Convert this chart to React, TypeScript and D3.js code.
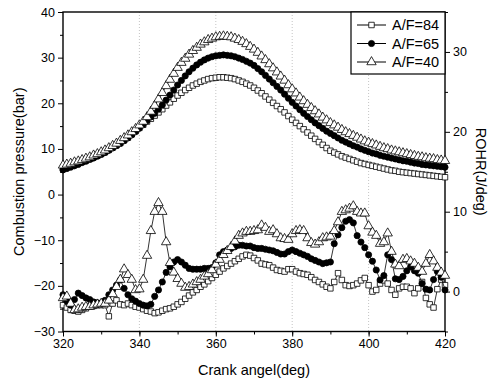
import React, { useEffect, useRef } from "react";
import * as d3 from "d3";

// crank angle, one sample per degree
const angles = d3.range(320, 421);

// combustion pressure (bar)
const p84 = [5.8, 6.0, 6.3, 6.6, 6.9, 7.2, 7.5, 7.8, 8.2, 8.5, 8.9, 9.3, 9.8, 10.3, 10.8, 11.3, 11.9, 12.5, 13.2, 13.9, 14.6, 15.3, 16.0, 16.6, 17.3, 18.0, 18.7, 19.5, 20.2, 21.0, 21.7, 22.3, 22.9, 23.4, 23.9, 24.3, 24.7, 25.0, 25.3, 25.5, 25.6, 25.7, 25.7, 25.6, 25.5, 25.3, 25.0, 24.7, 24.3, 23.9, 23.4, 22.8, 22.2, 21.5, 20.8, 20.1, 19.4, 18.7, 18.0, 17.2, 16.4, 15.7, 15.0, 14.3, 13.6, 12.9, 12.2, 11.5, 10.9, 10.2, 9.6, 9.2, 8.8, 8.4, 8.1, 7.8, 7.5, 7.2, 6.9, 6.7, 6.5, 6.3, 6.1, 5.9, 5.7, 5.5, 5.3, 5.2, 5.0, 4.9, 4.8, 4.7, 4.6, 4.5, 4.4, 4.3, 4.2, 4.1, 4.0, 3.9, 3.8];
const p65 = [5.4, 5.7, 6.0, 6.3, 6.6, 7.0, 7.3, 7.7, 8.0, 8.4, 8.8, 9.2, 9.7, 10.2, 10.7, 11.2, 11.8, 12.4, 13.1, 13.8, 14.6, 15.4, 16.2, 17.0, 17.8, 18.7, 19.6, 20.7, 21.8, 22.9, 24.0, 25.0, 26.0, 26.9, 27.7, 28.4, 29.0, 29.5, 29.9, 30.2, 30.4, 30.5, 30.6, 30.5, 30.4, 30.2, 29.9, 29.6, 29.2, 28.8, 28.3, 27.6, 26.9, 26.1, 25.3, 24.5, 23.7, 22.9, 22.0, 21.1, 20.2, 19.4, 18.6, 17.8, 17.1, 16.4, 15.7, 15.1, 14.5, 13.9, 13.4, 12.9, 12.4, 11.9, 11.5, 11.1, 10.7, 10.4, 10.0, 9.7, 9.4, 9.1, 8.9, 8.6, 8.4, 8.2, 8.0, 7.8, 7.6, 7.4, 7.3, 7.1, 6.9, 6.8, 6.6, 6.5, 6.4, 6.3, 6.2, 6.1, 6.0];
const p40 = [6.4, 6.6, 6.8, 7.1, 7.3, 7.6, 7.9, 8.2, 8.6, 8.9, 9.3, 9.7, 10.2, 10.7, 11.2, 11.8, 12.4, 13.0, 13.7, 14.4, 15.2, 16.0, 17.0, 18.2, 19.5, 20.9, 22.3, 23.8, 25.2, 26.5, 27.8, 28.9, 29.8, 30.7, 31.5, 32.2, 32.9, 33.4, 33.9, 34.2, 34.5, 34.6, 34.7, 34.6, 34.5, 34.2, 33.9, 33.5, 33.0, 32.4, 31.8, 31.1, 30.3, 29.5, 28.6, 27.7, 26.8, 25.9, 25.0, 24.0, 23.1, 22.2, 21.3, 20.5, 19.7, 19.0, 18.3, 17.6, 16.9, 16.3, 15.7, 15.2, 14.7, 14.2, 13.7, 13.3, 12.9, 12.5, 12.1, 11.7, 11.4, 11.1, 10.8, 10.5, 10.2, 10.0, 9.7, 9.5, 9.3, 9.1, 8.9, 8.7, 8.5, 8.3, 8.2, 8.0, 7.9, 7.8, 7.6, 7.5, 7.4];

// rate of heat release (J/deg)
const r84 = [-1.7, -2.0, -2.3, -2.4, -2.5, -2.3, -2.1, -1.9, -1.8, -1.7, -1.7, -1.7, -3.1, -1.5, -1.1, -1.6, -1.7, -1.5, -1.7, -1.9, -2.0, -2.2, -2.4, -2.5, -2.7, -2.6, -2.4, -2.2, -2.1, -1.9, -1.6, -1.3, -0.9, -0.5, -0.1, 0.2, 0.6, 0.9, 1.3, 1.7, 2.1, 2.5, 2.9, 3.2, 3.5, 3.8, 4.1, 4.4, 4.6, 4.5, 4.2, 3.9, 3.5, 3.4, 3.3, 3.0, 2.7, 2.6, 2.5, 2.8, 2.8, 2.5, 2.3, 2.2, 2.1, 1.8, 1.45, 1.2, 0.9, 0.6, 0.4, 1.2, 2.3, 1.45, 0.8, 0.7, 0.8, 1.0, 1.4, 1.7, 0.8, 0.0, 0.2, 1.0, 1.4, 1.0, 0.2, -0.4, 0.4, 0.6, 0.6, 0.4, -0.2, 0.4, 1.2, -0.8, -1.6, -2.0, 0.3, 1.5, 0.8];
const r65 = [-0.4, -1.2, -1.7, -1.0, -0.2, -0.5, -0.8, -1.0, -1.3, -1.4, -1.5, -1.1, -0.4, 0.2, 0.8, 1.45, 0.4, -0.4, -0.9, -1.2, -1.5, -1.7, -1.8, -1.6, -0.6, 0.2, 1.2, 2.4, 3.1, 3.7, 4.0, 3.7, 3.3, 2.9, 2.8, 2.8, 2.8, 2.9, 2.9, 3.0, 3.6, 4.6, 5.0, 5.2, 5.4, 5.6, 5.8, 5.8, 5.7, 5.7, 5.5, 5.4, 5.4, 5.3, 5.2, 5.1, 4.9, 4.7, 4.7, 5.0, 5.2, 5.0, 4.8, 4.6, 4.4, 4.1, 3.9, 3.7, 3.5, 3.6, 3.7, 6.0, 7.1, 8.0, 8.8, 9.0, 8.6, 7.0, 6.2, 5.5, 4.6, 3.8, 2.7, 1.45, 2.0, 4.6, 4.0, 1.6, 1.5, 1.9, 2.6, 3.1, 2.6, 2.3, 1.0, 0.3, 0.2, 1.5, 2.5, 1.8, 0.2];
const r40 = [-0.8, -0.6, -1.5, -2.3, -2.2, -2.0, -1.9, -1.9, -1.7, -1.6, -1.5, -1.5, -1.1, -0.3, 0.6, 1.5, 2.8, 2.1, 1.5, 0.2, 0.3, 1.5, 4.5, 7.6, 10.0, 11.1, 10.0, 6.2, 3.6, 2.4, 1.6, 1.0, 0.5, 0.6, 0.9, 1.2, 1.5, 1.9, 2.2, 2.7, 3.4, 4.0, 4.6, 5.1, 5.6, 6.3, 7.0, 7.3, 7.5, 7.5, 7.6, 7.7, 8.3, 8.0, 7.5, 7.7, 7.2, 6.7, 6.6, 6.5, 7.2, 7.6, 7.7, 7.6, 6.7, 6.1, 5.9, 6.2, 6.7, 6.8, 6.9, 7.6, 8.7, 10.0, 10.2, 10.4, 10.7, 10.0, 9.8, 9.8, 8.2, 7.4, 7.0, 6.0, 6.2, 7.3, 5.0, 3.4, 3.2, 4.0, 4.1, 3.8, 3.5, 3.0, 2.5, 3.5, 4.6, 3.8, 3.0, 2.4, 2.0];

const seriesNames = ["A/F=84", "A/F=65", "A/F=40"];
const xTicks = [320, 340, 360, 380, 400, 420];
const leftTicks = [-30, -20, -10, 0, 10, 20, 30, 40];
const rightTicks = [0, 10, 20, 30];

const W = 492;
const H = 382;
const margin = { top: 12, right: 47, bottom: 50.5, left: 63 };
const font = "'Liberation Sans', Arial, sans-serif";

export default function App() {
  const svgRef = useRef<SVGSVGElement>(null);

  useEffect(() => {
    const svg = d3.select(svgRef.current).attr("width", W).attr("height", H);
    svg.selectAll("*").remove();

    const x0 = margin.left;
    const x1 = W - margin.right;
    const y0 = margin.top;
    const y1 = H - margin.bottom;

    const x = d3.scaleLinear().domain([320, 420]).range([x0, x1]);
    const yL = d3.scaleLinear().domain([-30, 40]).range([y1, y0]);
    const yR = d3.scaleLinear().domain([-5, 35]).range([y1, y0]);

    svg.append("rect").attr("width", W).attr("height", H).attr("fill", "#fff");

    // dotted vertical grid
    svg
      .append("g")
      .selectAll("line")
      .data([340, 360, 380, 400])
      .enter()
      .append("line")
      .attr("x1", (d) => x(d))
      .attr("x2", (d) => x(d))
      .attr("y1", y0)
      .attr("y2", y1)
      .attr("stroke", "#b5b5b5")
      .attr("stroke-width", 0.8)
      .attr("stroke-dasharray", "1,2");

    const styleAxis = (g: any) => {
      g.select(".domain").remove();
      g.selectAll("line").attr("stroke", "#000").attr("stroke-width", 1);
      g.selectAll("text").attr("font-family", font).attr("font-size", 12.5).attr("fill", "#000");
    };

    // bottom axis
    svg
      .append("g")
      .attr("transform", `translate(0,${y1})`)
      .call(d3.axisBottom(x).tickValues(d3.range(320, 421, 10)).tickSize(3).tickFormat(() => ""))
      .call(styleAxis);
    svg
      .append("g")
      .attr("transform", `translate(0,${y1})`)
      .call(d3.axisBottom(x).tickValues(xTicks).tickSize(5).tickPadding(3).tickFormat(d3.format("d")))
      .call(styleAxis);

    // left axis
    svg
      .append("g")
      .attr("transform", `translate(${x0},0)`)
      .call(d3.axisLeft(yL).tickValues(d3.range(-25, 40, 10)).tickSize(3).tickFormat(() => ""))
      .call(styleAxis);
    svg
      .append("g")
      .attr("transform", `translate(${x0},0)`)
      .call(d3.axisLeft(yL).tickValues(leftTicks).tickSize(5).tickPadding(3).tickFormat(d3.format("d")))
      .call(styleAxis);

    // right axis
    svg
      .append("g")
      .attr("transform", `translate(${x1},0)`)
      .call(d3.axisRight(yR).tickValues([-5, 5, 15, 25, 35]).tickSize(3).tickFormat(() => ""))
      .call(styleAxis);
    svg
      .append("g")
      .attr("transform", `translate(${x1},0)`)
      .call(d3.axisRight(yR).tickValues(rightTicks).tickSize(5).tickPadding(3).tickFormat(d3.format("d")))
      .call(styleAxis);

    // frame
    svg
      .append("rect")
      .attr("x", x0)
      .attr("y", y0)
      .attr("width", x1 - x0)
      .attr("height", y1 - y0)
      .attr("fill", "none")
      .attr("stroke", "#000")
      .attr("stroke-width", 1.4);

    // axis titles
    svg
      .append("text")
      .attr("transform", `translate(19,${(y0 + y1) / 2}) rotate(-90)`)
      .attr("text-anchor", "middle")
      .attr("dominant-baseline", "central")
      .attr("font-family", font)
      .attr("font-size", 14.5)
      .text("Combustion pressure(bar)");
    svg
      .append("text")
      .attr("transform", `translate(481,${(y0 + y1) / 2}) rotate(90)`)
      .attr("text-anchor", "middle")
      .attr("dominant-baseline", "central")
      .attr("font-family", font)
      .attr("font-size", 14.5)
      .text("ROHR(J/deg)");
    svg
      .append("text")
      .attr("x", (x0 + x1) / 2)
      .attr("y", 375)
      .attr("text-anchor", "middle")
      .attr("font-family", font)
      .attr("font-size", 14.5)
      .text("Crank angel(deg)");

    const symbols = [d3.symbolSquare, d3.symbolCircle, d3.symbolTriangle];
    const sizes = [30, 30, 38];
    const fills = ["#fff", "#000", "#fff"];

    const drawSeries = (vals: number[], yScale: any, i: number) => {
      const pts = angles.map((a, k) => [a, vals[k]] as [number, number]);
      const line = d3
        .line<[number, number]>()
        .x((d) => x(d[0]))
        .y((d) => yScale(d[1]));
      const g = svg.append("g");
      g.append("path")
        .attr("d", line(pts))
        .attr("fill", "none")
        .attr("stroke", "#000")
        .attr("stroke-width", 0.8);
      g.selectAll("path.m")
        .data(pts)
        .enter()
        .append("path")
        .attr("class", "m")
        .attr("transform", (d) => `translate(${x(d[0])},${yScale(d[1])})`)
        .attr("d", d3.symbol().type(symbols[i]).size(sizes[i])())
        .attr("fill", fills[i])
        .attr("stroke", "#000")
        .attr("stroke-width", 0.8);
    };

    [p84, p65, p40].forEach((v, i) => drawSeries(v, yL, i));
    [r84, r65, r40].forEach((v, i) => drawSeries(v, yR, i));

    // legend
    const lg = svg.append("g");
    lg.append("rect")
      .attr("x", 351)
      .attr("y", y0)
      .attr("width", x1 - 351)
      .attr("height", 62)
      .attr("fill", "#fff")
      .attr("stroke", "#000")
      .attr("stroke-width", 1.2);
    seriesNames.forEach((name, i) => {
      const ly = 25 + i * 18.5;
      lg.append("line")
        .attr("x1", 357)
        .attr("x2", 386)
        .attr("y1", ly)
        .attr("y2", ly)
        .attr("stroke", "#000")
        .attr("stroke-width", 1);
      lg.append("path")
        .attr("transform", `translate(371.5,${ly})`)
        .attr("d", d3.symbol().type(symbols[i]).size(sizes[i])())
        .attr("fill", fills[i])
        .attr("stroke", "#000")
        .attr("stroke-width", 0.8);
      lg.append("text")
        .attr("x", 392)
        .attr("y", ly)
        .attr("dominant-baseline", "central")
        .attr("font-family", font)
        .attr("font-size", 14.5)
        .text(name);
    });
  }, []);

  return <svg ref={svgRef} style={{ position: "absolute", left: 0, top: 0 }}></svg>;
}
